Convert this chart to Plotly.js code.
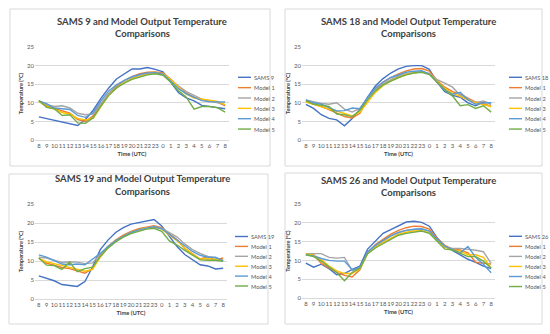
<!DOCTYPE html>
<html><head><meta charset="utf-8">
<script src="https://cdn.plot.ly/plotly-3.0.1.min.js"></script>
<style>html,body{margin:0;padding:0;background:#fff}#chart{width:550px;height:334px}</style>
</head><body><div id="chart"></div>
<script>
// ---- data ----
const hours = ['8','9','10','11','12','13','14','15','16','17','18','19','20','21','22','23','0','1','2','3','4','5','6','7','8'];
const stations = ['SAMS 9','SAMS 18','SAMS 19','SAMS 26'];
const modelNames = ['Model 1','Model 2','Model 3','Model 4','Model 5'];

const p1_sams = [6.2,5.7,5.3,4.9,4.4,3.9,5.5,8.0,11.2,14.0,16.4,17.8,19.1,19.1,19.5,19.0,18.3,15.5,12.7,11.3,10.5,9.3,9.0,8.8,8.4];
const p1_m1 = [10.5,9.2,8.5,7.8,7.2,5.5,5.0,6.5,9.5,12.5,14.5,16.0,17.0,17.8,18.2,18.3,18.0,16.3,14.3,12.6,11.5,10.8,10.6,10.2,9.2];
const p1_m2 = [10.3,9.5,9.0,9.2,8.6,7.2,6.8,7.0,9.8,12.5,14.2,15.5,16.6,17.3,17.7,18.0,17.8,16.0,14.5,13.0,12.0,11.0,10.5,10.0,9.5];
const p1_m3 = [10.4,9.0,8.3,7.4,7.0,5.8,5.4,5.8,9.0,12.0,14.0,15.4,16.5,17.2,17.7,17.9,17.8,16.2,14.2,12.3,11.3,10.9,10.7,10.4,9.5];
const p1_m4 = [10.5,9.8,8.6,8.5,8.2,6.6,6.1,7.3,10.5,13.2,14.8,16.0,17.0,17.6,18.0,18.1,17.7,15.8,13.8,12.4,11.5,10.6,10.3,10.3,10.2];
const p1_m5 = [10.6,8.8,8.4,6.6,6.8,4.6,4.5,6.0,9.2,12.0,14.0,15.3,16.3,17.0,17.5,17.8,17.4,15.5,13.2,11.5,8.3,9.0,9.0,8.7,7.5];

const p2_sams = [9.6,8.5,6.8,5.8,5.4,3.8,5.8,8.2,11.5,14.5,16.5,18.0,19.1,19.8,20.0,20.0,19.0,15.5,13.0,12.0,11.5,10.0,9.2,10.2,9.9];
const p2_m1 = [10.5,9.8,9.0,8.2,7.2,6.3,5.9,7.2,11.0,13.8,15.5,16.8,17.8,18.6,19.1,19.2,18.5,16.0,14.2,13.0,12.3,11.3,10.2,9.8,9.0];
const p2_m2 = [10.8,10.2,9.8,9.6,10.0,8.3,7.5,8.5,11.2,13.5,15.0,16.2,17.2,17.8,18.2,18.4,17.8,16.2,15.3,14.2,12.0,11.0,10.0,10.5,9.5];
const p2_m3 = [10.2,9.5,9.0,8.3,7.8,7.1,6.5,7.5,10.0,12.8,14.6,15.9,16.8,17.6,18.0,18.3,17.8,15.8,13.8,12.6,11.6,10.8,10.0,9.6,9.0];
const p2_m4 = [10.8,10.0,9.6,8.7,7.8,7.9,8.6,8.4,11.5,14.0,15.6,16.8,17.6,18.2,18.5,18.6,17.8,15.5,13.5,12.3,12.8,10.8,9.6,10.0,10.0];
const p2_m5 = [10.6,9.6,9.3,9.0,7.0,6.8,6.3,8.0,10.8,13.2,14.8,15.9,16.8,17.5,18.0,18.2,17.6,15.5,13.5,11.8,9.2,9.5,8.5,9.2,7.5];

const p3_sams = [6.1,5.5,4.8,3.8,3.6,3.3,4.6,8.5,13.0,15.5,17.5,18.8,19.7,20.1,20.4,20.9,19.2,16.5,13.8,11.7,10.3,9.0,8.7,7.9,8.1];
const p3_m1 = [10.8,9.4,8.9,8.3,8.0,7.5,6.8,8.0,11.5,13.8,15.5,16.8,17.8,18.5,19.0,19.3,18.8,17.2,15.6,13.3,11.8,10.5,11.2,10.2,10.8];
const p3_m2 = [11.0,10.8,10.2,9.6,9.8,9.7,9.3,9.5,11.8,13.8,15.2,16.5,17.5,18.2,18.7,19.0,18.6,17.5,16.3,14.5,13.0,12.0,11.2,10.8,10.2];
const p3_m3 = [10.6,9.8,9.3,8.8,8.2,7.8,7.3,7.8,11.0,13.5,15.2,16.5,17.5,18.2,18.7,18.9,18.4,16.8,15.3,13.4,11.8,10.5,10.6,10.4,10.2];
const p3_m4 = [11.6,11.0,10.1,9.2,9.0,9.2,9.0,10.5,12.0,13.8,15.3,16.5,17.5,18.2,18.7,19.0,18.5,17.0,15.5,13.8,12.5,11.5,11.0,11.0,10.0];
const p3_m5 = [10.8,8.9,8.8,7.8,9.7,7.2,8.0,8.4,11.2,13.4,15.0,16.3,17.2,17.9,18.4,18.6,17.8,15.3,14.2,12.8,11.5,10.3,10.2,10.2,9.9];

const p4_sams = [9.3,8.2,9.0,7.8,6.2,6.5,7.6,8.5,13.0,15.0,17.2,18.2,19.2,20.2,20.4,20.1,19.1,16.0,13.8,12.6,11.5,10.3,9.5,8.5,7.8];
const p4_m1 = [11.8,11.5,9.2,8.0,6.8,6.0,5.6,7.5,12.0,14.2,15.7,17.0,18.0,18.7,19.1,19.0,18.3,15.8,14.0,13.0,12.8,12.0,9.5,9.2,9.0];
const p4_m2 = [11.8,11.8,11.8,10.8,10.6,10.8,7.3,8.0,12.0,13.8,15.2,16.5,17.5,18.0,18.2,18.3,17.8,15.5,13.5,13.2,13.2,13.0,12.7,12.3,9.2];
const p4_m3 = [11.7,11.4,10.2,8.5,7.2,6.5,6.5,7.8,11.8,13.5,14.8,16.0,17.0,17.5,17.8,17.9,17.3,15.2,13.5,12.8,12.5,11.5,11.5,10.8,8.0];
const p4_m4 = [11.5,11.2,10.5,10.0,9.8,9.8,7.5,8.0,12.3,14.0,15.3,16.5,17.4,18.0,18.3,18.4,17.8,15.6,13.8,13.0,12.0,13.7,10.8,9.0,6.7];
const p4_m5 = [11.5,11.0,9.8,8.3,6.8,4.6,6.8,8.0,11.8,13.3,14.5,15.7,16.7,17.2,17.6,17.8,17.2,15.0,13.0,12.8,11.8,11.0,11.0,9.8,8.0];

const panelSeries = [
  [p1_sams,p1_m1,p1_m2,p1_m3,p1_m4,p1_m5],
  [p2_sams,p2_m1,p2_m2,p2_m3,p2_m4,p2_m5],
  [p3_sams,p3_m1,p3_m2,p3_m3,p3_m4,p3_m5],
  [p4_sams,p4_m1,p4_m2,p4_m3,p4_m4,p4_m5]
];

// ---- style / geometry ----
const W = 550, H = 334;
const px = x => x / W, py = y => 1 - y / H;
const colors = ['#4472C4','#ED7D31','#A5A5A5','#FFC000','#5B9BD5','#70AD47'];
const FONT = 'Lato, "Open Sans", sans-serif';
const boxes = [[10,270,9,166],[285,542,9,166],[9,268,174,324],[285,542,173,324]];
const areas = [[35,229,47,140],[302,495,47,140],[35,227,204,299],[302,495,204,298]];
const titlePos = [[142,22,33],[408,22,33],[142,179,191],[408,180,192]];
const legPos = [[238,77.3,10.35],[509,77.3,10.35],[235,236.5,9.9],[509,236.3,10.05]];

const xIdx = hours.map((_, i) => i);
const traces = [];
const layout = {
  width: W, height: H, margin: {l:0,r:0,t:0,b:0},
  paper_bgcolor: '#fff', plot_bgcolor: '#fff',
  showlegend: false, font: {family: FONT, color: '#595959'},
  shapes: [], annotations: []
};

for (let p = 0; p < 4; p++) {
  const sfx = p === 0 ? '' : String(p + 1);
  const names = [stations[p]].concat(modelNames);
  const [l, r, t, b] = areas[p];
  layout['xaxis' + sfx] = {
    domain: [px(l), px(r)], anchor: 'y' + sfx, range: [-0.5, 24.5],
    tickmode: 'array', tickvals: xIdx, ticktext: hours, tickangle: 0,
    showgrid: false, zeroline: false, showline: true, linecolor: '#D9D9D9', linewidth: 1,
    ticks: '', tickfont: {size: 6, color: '#595959', family: FONT},
    title: {text: '<b>Time (UTC)</b>', font: {size: 5.8, color: '#404040', family: FONT}, standoff: 3},
    fixedrange: true
  };
  layout['yaxis' + sfx] = {
    domain: [py(b), py(t)], anchor: 'x' + sfx, range: [0, 25],
    tickvals: [0,5,10,15,20,25], showgrid: true, gridcolor: '#D9D9D9', gridwidth: 1,
    zeroline: false, showline: false, ticks: '',
    tickfont: {size: 6, color: '#595959', family: FONT},
    title: {text: '<b>Temperature (ºC)</b>', font: {size: 5.5, color: '#404040', family: FONT}, standoff: 3},
    fixedrange: true
  };
  panelSeries[p].forEach((vals, i) => {
    traces.push({
      type: 'scatter', mode: 'lines', x: xIdx, y: vals, name: names[i],
      xaxis: 'x' + sfx, yaxis: 'y' + sfx,
      line: {color: colors[i], width: 1.4}, hoverinfo: 'skip'
    });
  });
  const bx = boxes[p];
  layout.shapes.push({type: 'rect', xref: 'paper', yref: 'paper',
    x0: px(bx[0]), x1: px(bx[1]), y0: py(bx[3]), y1: py(bx[2]),
    line: {color: '#D9D9D9', width: 1}, fillcolor: 'rgba(0,0,0,0)', layer: 'below'});
  const tp = titlePos[p];
  layout.annotations.push({xref:'paper', yref:'paper', x: px(tp[0]), y: py(tp[1]), xanchor:'center', yanchor:'middle',
    text: '<b>' + stations[p] + ' and Model Output Temperature</b>', showarrow:false,
    font: {size: 9.5, color: '#404040', family: FONT}});
  layout.annotations.push({xref:'paper', yref:'paper', x: px(tp[0]), y: py(tp[2]), xanchor:'center', yanchor:'middle',
    text: '<b>Comparisons</b>', showarrow:false, font: {size: 9.5, color: '#404040', family: FONT}});
  const lg = legPos[p];
  names.forEach((nm, i) => {
    const yy = lg[1] + i * lg[2];
    layout.shapes.push({type:'line', xref:'paper', yref:'paper', x0: px(lg[0]), x1: px(lg[0] + 13),
      y0: py(yy), y1: py(yy), line: {color: colors[i], width: 1.4}});
    layout.annotations.push({xref:'paper', yref:'paper', x: px(lg[0] + 14), y: py(yy), xanchor:'left', yanchor:'middle',
      text: nm, showarrow:false, font: {size: 5.7, color: '#595959', family: FONT}});
  });
}

Plotly.newPlot('chart', traces, layout, {staticPlot: true, displayModeBar: false});
</script>
</body></html>
